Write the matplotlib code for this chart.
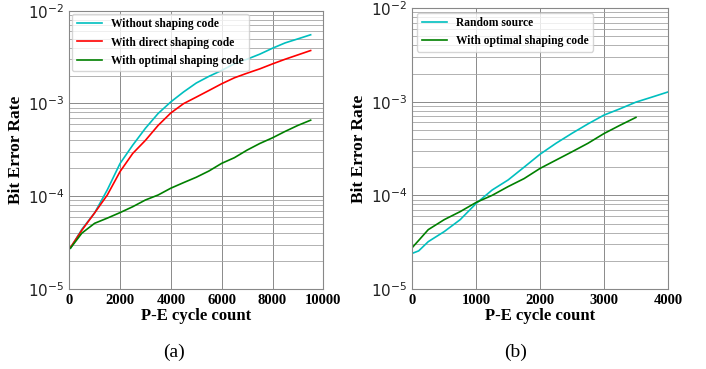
import numpy as np
import matplotlib.pyplot as plt

# Panel (a) data: BER vs P-E cycles
pe_a = [50, 500, 1000, 1500, 2000, 2500, 3000, 3500, 4000, 4500, 5000,
        5500, 6000, 6500, 7000, 7500, 8000, 8500, 9000, 9500]
ber_none = [2.75e-5, 4.4e-5, 6.6e-5, 1.17e-4, 2.25e-4, 3.55e-4, 5.4e-4, 7.8e-4, 1.04e-3, 1.33e-3,
            1.66e-3, 1.96e-3, 2.27e-3, 2.68e-3, 3.0e-3, 3.4e-3, 3.94e-3, 4.5e-3, 4.97e-3, 5.5e-3]
ber_direct = [2.8e-5, 4.3e-5, 6.6e-5, 1.03e-4, 1.84e-4, 2.89e-4, 4.0e-4, 5.8e-4, 7.9e-4, 9.95e-4,
              1.17e-3, 1.38e-3, 1.63e-3, 1.89e-3, 2.12e-3, 2.36e-3, 2.67e-3, 3.0e-3, 3.34e-3, 3.72e-3]
ber_optimal = [2.75e-5, 4.0e-5, 5.1e-5, 5.8e-5, 6.65e-5, 7.7e-5, 9.1e-5, 1.03e-4, 1.22e-4, 1.4e-4,
               1.6e-4, 1.87e-4, 2.26e-4, 2.6e-4, 3.14e-4, 3.7e-4, 4.26e-4, 5.0e-4, 5.8e-4, 6.6e-4]

# Panel (b) data
pe_b = [0, 100, 250, 500, 750, 1000, 1250, 1500, 1750, 2000, 2250, 2500,
        2750, 3000, 3250, 3500, 3750, 4000]
ber_random = [2.4e-5, 2.55e-5, 3.2e-5, 4.1e-5, 5.5e-5, 8.2e-5, 1.14e-4, 1.46e-4, 2.0e-4, 2.75e-4,
              3.6e-4, 4.6e-4, 5.8e-4, 7.2e-4, 8.4e-4, 9.9e-4, 1.12e-3, 1.27e-3]
pe_b_opt = [0, 100, 250, 500, 750, 1000, 1250, 1500, 1750, 2000, 2250, 2500, 2750, 3000, 3250, 3500]
ber_b_opt = [2.77e-5, 3.3e-5, 4.3e-5, 5.5e-5, 6.7e-5, 8.4e-5, 1.0e-4, 1.24e-4, 1.51e-4, 1.94e-4,
             2.38e-4, 2.92e-4, 3.6e-4, 4.57e-4, 5.6e-4, 6.8e-4]

serif = 'Liberation Serif'
fig = plt.figure(figsize=(7.06, 3.69), dpi=100)
ax1 = fig.add_axes([0.098, 0.217, 0.360, 0.754])
ax2 = fig.add_axes([0.584, 0.217, 0.362, 0.761])


def style(ax, xmax, xticks):
    ax.set_yscale('log')
    ax.set_ylim(1e-5, 1e-2)
    ax.set_xlim(0, xmax)
    ax.set_xticks(xticks)
    ax.grid(True, which='major', color='#8a8a8a', linewidth=0.7)
    ax.grid(True, which='minor', color='#a5a5a5', linewidth=0.6)
    ax.tick_params(which='both', length=0)
    ax.tick_params(axis='y', labelsize=11, colors='#222222')
    for lab in ax.get_xticklabels():
        lab.set_fontfamily(serif)
        lab.set_fontweight('bold')
        lab.set_fontsize(10.5)
    for s in ax.spines.values():
        s.set_color('#888888')
        s.set_linewidth(0.8)
    ax.set_xlabel('P-E cycle count', fontfamily=serif, fontweight='bold', fontsize=12, labelpad=1)
    ax.set_ylabel('Bit Error Rate', fontfamily=serif, fontweight='bold', fontsize=12.5, labelpad=3)


ax1.plot(pe_a, ber_none, color='c', lw=1.2, label='Without shaping code')
ax1.plot(pe_a, ber_direct, color='r', lw=1.2, label='With direct shaping code')
ax1.plot(pe_a, ber_optimal, color='g', lw=1.2, label='With optimal shaping code')
style(ax1, 10000, [0, 2000, 4000, 6000, 8000, 10000])
ax1.legend(loc='upper left', prop={'family': serif, 'weight': 'bold', 'size': 8.3},
           handlelength=2.2, borderaxespad=0.25, labelspacing=0.55)

ax2.plot(pe_b, ber_random, color='c', lw=1.2, label='Random source')
ax2.plot(pe_b_opt, ber_b_opt, color='g', lw=1.2, label='With optimal shaping code')
style(ax2, 4000, [0, 1000, 2000, 3000, 4000])
ax2.legend(loc='upper left', prop={'family': serif, 'size': 8.3, 'weight': 'bold'},
           handlelength=2.2, borderaxespad=0.4, labelspacing=0.5)

fig.text(0.246, 0.046, '(a)', fontfamily=serif, fontsize=14, ha='center', va='center')
fig.text(0.730, 0.046, '(b)', fontfamily=serif, fontsize=14, ha='center', va='center')

fig.savefig('out.png', dpi=100)
